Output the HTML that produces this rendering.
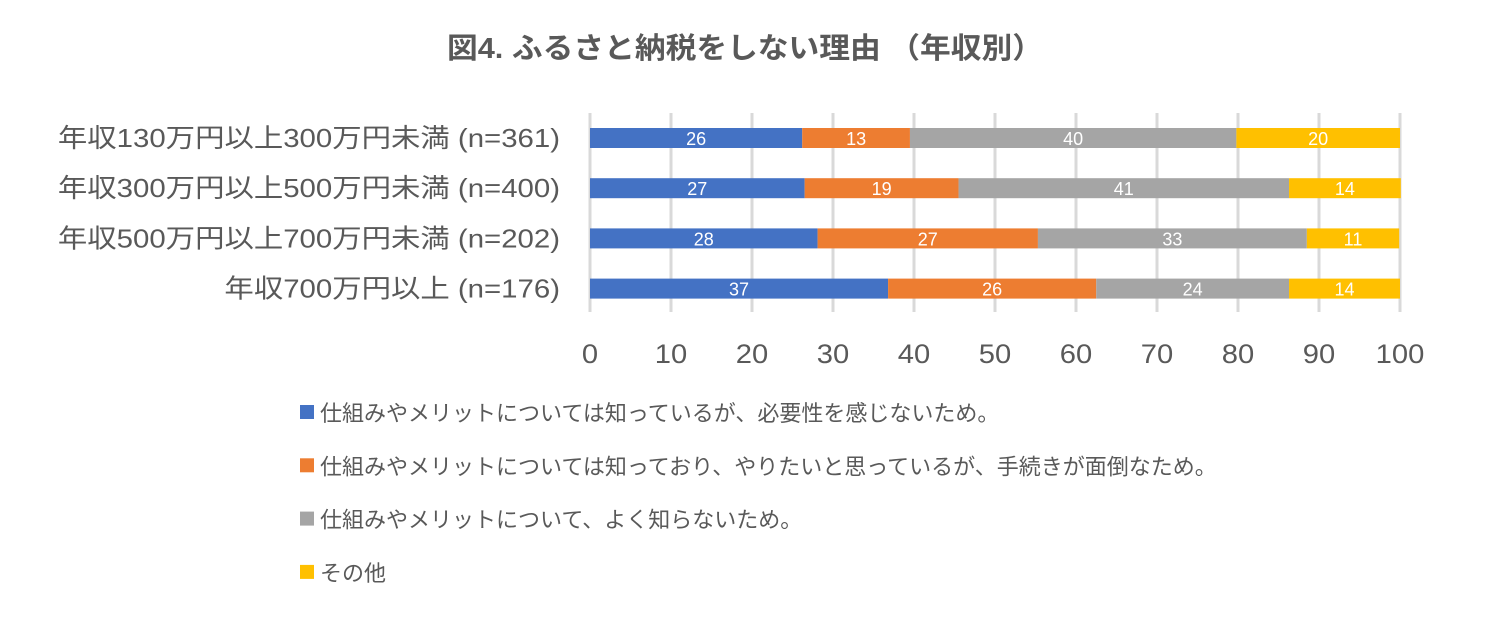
<!DOCTYPE html>
<html><head><meta charset="utf-8"><style>
body{margin:0;background:#fff;}
svg{display:block;font-family:"Liberation Sans","Noto Sans CJK JP",sans-serif;}
</style></head><body>
<svg id="chart" width="1497" height="627" viewBox="0 0 1497 627">
<text id="title" x="745" y="58" text-anchor="middle" font-size="29" font-weight="bold" fill="#595959">図4. ふるさと納税をしない理由 （年収別）</text>
<g id="grid"></g><g id="bars"></g><g id="cats"></g><g id="ticks"></g><g id="legend"></g>
</svg>
<script>
const categories=["年収130万円以上300万円未満 (n=361)","年収300万円以上500万円未満 (n=400)","年収500万円以上700万円未満 (n=202)","年収700万円以上 (n=176)"];
const seriesNames=["仕組みやメリットについては知っているが、必要性を感じないため。","仕組みやメリットについては知っており、やりたいと思っているが、手続きが面倒なため。","仕組みやメリットについて、よく知らないため。","その他"];
const s1=[26.2,26.5,28.1,36.8];
const s2=[13.3,19.0,27.2,25.7];
const s3=[40.3,40.8,33.2,23.8];
const s4=[20.2,13.8,11.4,13.7];
const tickLabels=[0,10,20,30,40,50,60,70,80,90,100];
const colors=["#4472C4","#ED7D31","#A5A5A5","#FFC000"];
const NS="http://www.w3.org/2000/svg";
const x=v=>590+v*8.1;
const yRow=i=>128+i*50.2;
function mk(p,tag,at,txt){const e=document.createElementNS(NS,tag);for(const k in at)e.setAttribute(k,at[k]);if(txt!==undefined)e.textContent=txt;document.getElementById(p).appendChild(e);return e;}
function stretch(e,f){const w=e.getComputedTextLength();e.setAttribute("textLength",w*f);e.setAttribute("lengthAdjust","spacingAndGlyphs");}
stretch(document.getElementById("title"),1.06);
tickLabels.forEach(t=>{
 const l=mk("grid","line",{x1:x(t),x2:x(t),y1:113,y2:312,stroke:"#D9D9D9","stroke-width":3});
 
 
 const tx=mk("ticks","text",{x:x(t),y:363,"text-anchor":"middle","font-size":27,fill:"#595959"},t);
 
 
 stretch(tx,1.08);
});
const series=[s1,s2,s3,s4];
categories.forEach((c,i)=>{
 const ct=mk("cats","text",{x:560,y:yRow(i)+19,"text-anchor":"end","font-size":26,fill:"#595959"},c);
 
 
 stretch(ct,1.13);
 let acc=0;
 series.forEach((s,j)=>{
  const v=s[i];
  const r=mk("bars","rect",{x:x(acc),y:yRow(i),width:x(acc+v)-x(acc),height:20,fill:colors[j]});
  
  
  const t=mk("bars","text",{x:(x(acc)+x(acc+v))/2,y:yRow(i)+17,"text-anchor":"middle","font-size":18,fill:"#fff"},Math.round(v));
  
  
  acc+=v;
 });
});
seriesNames.forEach((n,j)=>{
 const y=413+j*53.3;
 const r=mk("legend","rect",{x:300,y:y-8,width:14,height:14,fill:colors[j]});
 
 
 const t=mk("legend","text",{x:320,y:y+8,"font-size":22,fill:"#595959"},n);
 
 
});
</script>
</body></html>
